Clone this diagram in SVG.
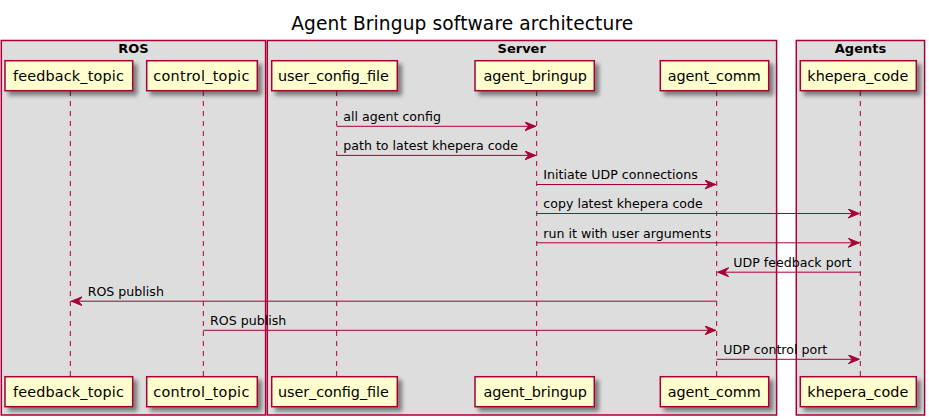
<svg xmlns="http://www.w3.org/2000/svg" width="929" height="420" viewBox="0 0 929 420">
<defs>
<filter id="sh" x="-20%" y="-20%" width="150%" height="160%">
<feGaussianBlur in="SourceAlpha" stdDeviation="2" result="b"/>
<feOffset in="b" dx="4" dy="4" result="o"/>
<feComponentTransfer in="o" result="c"><feFuncA type="linear" slope="0.45"/></feComponentTransfer>
<feMerge><feMergeNode in="c"/><feMergeNode in="SourceGraphic"/></feMerge>
</filter>
<marker id="ah" markerWidth="13" markerHeight="11" refX="11" refY="4.5" orient="auto" markerUnits="userSpaceOnUse">
<polygon points="0,0 11,4.5 0,9 4,4.5" fill="#A80036" stroke="#A80036" stroke-width="1"/>
</marker>
</defs>
<style>
text{font-family:"DejaVu Sans","Noto Sans",sans-serif;fill:#000}
.grp{fill:#DDDDDD;stroke:#A80036;stroke-width:1.5}
.gt{font-size:13px;font-weight:bold;text-anchor:middle}
.pb{fill:#FEFECE;stroke:#A80036;stroke-width:1.5;filter:url(#sh)}
.pt{font-size:14.4px;text-anchor:middle}
.life{stroke:#A80036;stroke-width:1;stroke-dasharray:5,5;fill:none}
.msg{stroke:#A80036;stroke-width:1;fill:none;marker-end:url(#ah)}
.ml{font-size:12.6px}
</style>
<rect width="929" height="420" fill="#FFFFFF"/>
<text x="462.2" y="30" font-size="18.6" text-anchor="middle" textLength="342">Agent Bringup software architecture</text>

<g id="group-ROS">
<rect class="grp" x="1.3" y="40.5" width="264.3" height="374.5"/>
<text class="gt" x="133.5" y="52.7">ROS</text>
</g>
<g id="group-Server">
<rect class="grp" x="267.3" y="40.5" width="509.3" height="374.5"/>
<text class="gt" x="521.7" y="52.7">Server</text>
</g>
<g id="group-Agents">
<rect class="grp" x="796.3" y="40.5" width="128.3" height="374.5"/>
<text class="gt" x="860.5" y="52.7">Agents</text>
</g>

<g id="lifelines">
<line class="life" x1="70.3" y1="91" x2="70.3" y2="376.7"/>
<line class="life" x1="203.3" y1="91" x2="203.3" y2="376.7"/>
<line class="life" x1="336.7" y1="91" x2="336.7" y2="376.7"/>
<line class="life" x1="536.7" y1="91" x2="536.7" y2="376.7"/>
<line class="life" x1="716.7" y1="91" x2="716.7" y2="376.7"/>
<line class="life" x1="860.3" y1="91" x2="860.3" y2="376.7"/>
</g>

<g id="feedback_topic">
<rect class="pb" x="5" y="60.7" width="127.7" height="30"/>
<text class="pt" x="68.4" y="81" textLength="111">feedback_topic</text>
<rect class="pb" x="5" y="376.7" width="127.7" height="30"/>
<text class="pt" x="68.4" y="397" textLength="111">feedback_topic</text>
</g>
<g id="control_topic">
<rect class="pb" x="146.7" y="60.7" width="110.6" height="30"/>
<text class="pt" x="201.3" y="81" textLength="96">control_topic</text>
<rect class="pb" x="146.7" y="376.7" width="110.6" height="30"/>
<text class="pt" x="201.3" y="397" textLength="96">control_topic</text>
</g>
<g id="user_config_file">
<rect class="pb" x="271.7" y="60.7" width="125.6" height="30"/>
<text class="pt" x="333.4" y="81" textLength="111">user_config_file</text>
<rect class="pb" x="271.7" y="376.7" width="125.6" height="30"/>
<text class="pt" x="333.4" y="397" textLength="111">user_config_file</text>
</g>
<g id="agent_bringup">
<rect class="pb" x="475" y="60.7" width="119.3" height="30"/>
<text class="pt" x="535.2" y="81" textLength="103.5">agent_bringup</text>
<rect class="pb" x="475" y="376.7" width="119.3" height="30"/>
<text class="pt" x="535.2" y="397" textLength="103.5">agent_bringup</text>
</g>
<g id="agent_comm">
<rect class="pb" x="660.3" y="60.7" width="108.4" height="30"/>
<text class="pt" x="714.2" y="81" textLength="93">agent_comm</text>
<rect class="pb" x="660.3" y="376.7" width="108.4" height="30"/>
<text class="pt" x="714.2" y="397" textLength="93">agent_comm</text>
</g>
<g id="khepera_code">
<rect class="pb" x="800.3" y="60.7" width="116" height="30"/>
<text class="pt" x="857.8" y="81" textLength="101">khepera_code</text>
<rect class="pb" x="800.3" y="376.7" width="116" height="30"/>
<text class="pt" x="857.8" y="397" textLength="101">khepera_code</text>
</g>

<g id="connectors">
<line class="msg" x1="336.7" y1="126.3" x2="535.7" y2="126.3"/>
<text class="ml" x="343.3" y="121">all agent config</text>
<line class="msg" x1="336.7" y1="155.4" x2="535.7" y2="155.4"/>
<text class="ml" x="343.3" y="150.1">path to latest khepera code</text>
<line class="msg" x1="536.7" y1="184.5" x2="715.7" y2="184.5"/>
<text class="ml" x="543.3" y="179.2">Initiate UDP connections</text>
<line class="msg" x1="536.7" y1="213.5" x2="859.3" y2="213.5"/>
<text class="ml" x="543.3" y="208.2">copy latest khepera code</text>
<line class="msg" x1="536.7" y1="242.8" x2="859.3" y2="242.8"/>
<text class="ml" x="543.3" y="237.5">run it with user arguments</text>
<line class="msg" x1="860.3" y1="272.2" x2="717.7" y2="272.2"/>
<text class="ml" x="733.3" y="266.9">UDP feedback port</text>
<line class="msg" x1="716.7" y1="301.2" x2="71.3" y2="301.2"/>
<text class="ml" x="87.7" y="295.9">ROS publish</text>
<line class="msg" x1="203.3" y1="330.3" x2="715.7" y2="330.3"/>
<text class="ml" x="210" y="325">ROS publish</text>
<line class="msg" x1="716.7" y1="359.3" x2="859.3" y2="359.3"/>
<text class="ml" x="723.3" y="354">UDP control port</text>
</g>
</svg>
